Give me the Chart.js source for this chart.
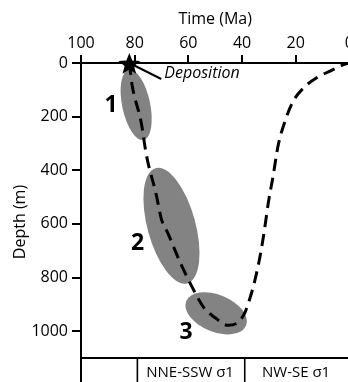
<!DOCTYPE html>
<html>
<head>
<meta charset="utf-8">
<script src="https://cdn.jsdelivr.net/npm/chart.js@4.4.1/dist/chart.umd.min.js"></script>
<style>
  html, body { margin: 0; padding: 0; background: #fff; overflow: hidden; width: 348px; height: 382px; }
  #wrap { position: absolute; left: 0; top: 0; width: 356px; height: 382px; }
</style>
</head>
<body>
<div id="wrap"><canvas id="c" width="356" height="382"></canvas></div>
<script>
// Axis ticks
const ageTicks = [100, 80, 60, 40, 20, 0];
const depthTicks = [0, 200, 400, 600, 800, 1000];

// Burial path: age (Ma) and depth (m)
const burialAge   = [82.0, 81.0, 77.6, 75.6, 72.0, 70.1, 67.4, 63.0, 58.1, 54.4, 50.0, 45.2, 41.5, 38.9, 37.0, 35.2, 33.1, 31.7, 30.2, 28.5, 26.5, 24.1, 21.1, 17.0, 12.2, 7.0, 2.6, 0];
const burialDepth = [0,    80,   220,  345,  490,  580,  640,  745,  845,  910,  950,  978,  967,  930,  875,  810,  710,  625,  520,  425,  305,  220,  145,  92,   55,   29,  8,   0];

// Deposition point
const depositionAge = 82.0;
const depositionDepth = 0;

// Deformation zones: long-axis end points (age, depth)
const zoneNames      = ['1', '2', '3'];
const zoneStartAge   = [82.2, 72.2, 60.8];
const zoneStartDepth = [25,   392,  888];
const zoneEndAge     = [76.7, 60.4, 38.5];
const zoneEndDepth   = [287,  822,  979];

// Stress phases along the time axis
const phaseNames = ['', 'NNE-SSW σ1', 'NW-SE σ1'];
const phaseStart = [100, 79, 39];
const phaseEnd   = [79, 39, 0];

const FONT = "'Open Sans', 'DejaVu Sans', sans-serif";

// Drawing styles for the zones
const zoneStyle = {
  fill: '#838383',
  halfWidth: [14, 24, 18.5],
  labelOffset: [[-25, 1], [-34, 18], [-30, 19]]
};

const overlay = {
  id: 'overlay',
  beforeDatasetsDraw(chart) {
    const { ctx, scales: { x, y } } = chart;
    ctx.save();
    ctx.fillStyle = zoneStyle.fill;
    for (let i = 0; i < zoneNames.length; i++) {
      const x1 = x.getPixelForValue(zoneStartAge[i]);
      const y1 = y.getPixelForValue(zoneStartDepth[i]);
      const x2 = x.getPixelForValue(zoneEndAge[i]);
      const y2 = y.getPixelForValue(zoneEndDepth[i]);
      const cx = (x1 + x2) / 2, cy = (y1 + y2) / 2;
      const a = Math.hypot(x2 - x1, y2 - y1) / 2;
      const ang = Math.atan2(y2 - y1, x2 - x1);
      ctx.beginPath();
      ctx.ellipse(cx, cy, a, zoneStyle.halfWidth[i], ang, 0, Math.PI * 2);
      ctx.fill();
    }
    ctx.restore();
  },
  afterDatasetsDraw(chart) {
    const { ctx, chartArea: ca, scales: { x, y } } = chart;
    ctx.save();

    // zone numbers
    ctx.fillStyle = '#000';
    ctx.font = `bold 23px ${FONT}`;
    ctx.textAlign = 'center';
    ctx.textBaseline = 'middle';
    for (let i = 0; i < zoneNames.length; i++) {
      const x1 = x.getPixelForValue(zoneStartAge[i]);
      const y1 = y.getPixelForValue(zoneStartDepth[i]);
      const x2 = x.getPixelForValue(zoneEndAge[i]);
      const y2 = y.getPixelForValue(zoneEndDepth[i]);
      const cx = (x1 + x2) / 2, cy = (y1 + y2) / 2;
      ctx.fillText(zoneNames[i], cx + zoneStyle.labelOffset[i][0], cy + zoneStyle.labelOffset[i][1]);
    }

    // deposition star with leader and label
    const sx = x.getPixelForValue(depositionAge);
    const sy = y.getPixelForValue(depositionDepth);
    ctx.strokeStyle = '#000';
    ctx.lineWidth = 2;
    ctx.beginPath();
    ctx.moveTo(sx + 4, sy + 2);
    ctx.lineTo(sx + 32, sy + 16);
    ctx.stroke();
    const R = 11.5, r = 5;
    ctx.beginPath();
    for (let k = 0; k < 10; k++) {
      const rad = k % 2 === 0 ? R : r;
      const t = -Math.PI / 2 + k * Math.PI / 5;
      const px = sx + rad * Math.cos(t), py = sy + 1.5 + rad * Math.sin(t);
      k === 0 ? ctx.moveTo(px, py) : ctx.lineTo(px, py);
    }
    ctx.closePath();
    ctx.fillStyle = '#000';
    ctx.fill();
    ctx.font = `italic 16px ${FONT}`;
    ctx.textAlign = 'left';
    ctx.textBaseline = 'middle';
    ctx.fillText('Deposition', sx + 35, sy + 10);

    // phase strip under the plot
    const bottom = chart.height;
    ctx.lineWidth = 2;
    ctx.beginPath();
    ctx.moveTo(ca.left - 1, ca.bottom);
    ctx.lineTo(chart.width, ca.bottom);
    ctx.moveTo(ca.left, ca.bottom);
    ctx.lineTo(ca.left, bottom);
    ctx.stroke();
    ctx.lineWidth = 1.6;
    ctx.font = `15px ${FONT}`;
    ctx.textAlign = 'center';
    for (let i = 0; i < phaseNames.length; i++) {
      const xa = x.getPixelForValue(phaseStart[i]);
      const xb = x.getPixelForValue(phaseEnd[i]);
      if (i > 0) {
        ctx.beginPath();
        ctx.moveTo(xa, ca.bottom);
        ctx.lineTo(xa, bottom);
        ctx.stroke();
      }
      if (phaseNames[i]) ctx.fillText(phaseNames[i], (xa + xb) / 2 - 1, ca.bottom + 15);
    }

    // depth axis title
    ctx.translate(20, 222);
    ctx.rotate(-Math.PI / 2);
    ctx.font = `16px ${FONT}`;
    ctx.textAlign = 'center';
    ctx.textBaseline = 'middle';
    ctx.fillText('Depth (m)', 0, 0);
    ctx.restore();
  }
};

new Chart(document.getElementById('c').getContext('2d'), {
  type: 'line',
  data: {
    datasets: [{
      data: burialAge.map((a, i) => ({ x: a, y: burialDepth[i] })),
      borderColor: '#000',
      borderWidth: 3,
      borderDash: [12, 7],
      pointRadius: 0,
      fill: false,
      cubicInterpolationMode: 'monotone'
    }]
  },
  options: {
    responsive: false,
    animation: false,
    devicePixelRatio: 1,
    layout: { padding: { left: 0, right: 6, top: 0, bottom: 24 } },
    plugins: { legend: { display: false }, tooltip: { enabled: false } },
    scales: {
      x: {
        type: 'linear',
        position: 'top',
        reverse: true,
        min: 0,
        max: 100,
        afterBuildTicks: s => { s.ticks = ageTicks.map(v => ({ value: v })); },
        afterFit: s => { s.height = 63; },
        ticks: { font: { family: FONT, size: 16 }, color: '#000', padding: 2, maxRotation: 0, autoSkip: false, callback: v => String(v) },
        grid: { drawOnChartArea: false, tickLength: 8, lineWidth: 2, color: '#000' },
        border: { display: true, width: 2, color: '#000' },
        title: { display: true, text: 'Time (Ma)', font: { family: FONT, size: 16 }, color: '#000', padding: { top: 10, bottom: 0 } }
      },
      y: {
        type: 'linear',
        position: 'left',
        reverse: true,
        min: 0,
        max: 1100,
        afterBuildTicks: s => { s.ticks = depthTicks.map(v => ({ value: v })); },
        afterFit: s => { s.width = 81; },
        ticks: { font: { family: FONT, size: 16 }, color: '#000', padding: 4, autoSkip: false, callback: v => String(v) },
        grid: { drawOnChartArea: false, tickLength: 9, lineWidth: 2, color: '#000' },
        border: { display: true, width: 2, color: '#000' }
      }
    }
  },
  plugins: [overlay]
});
</script>
</body>
</html>
